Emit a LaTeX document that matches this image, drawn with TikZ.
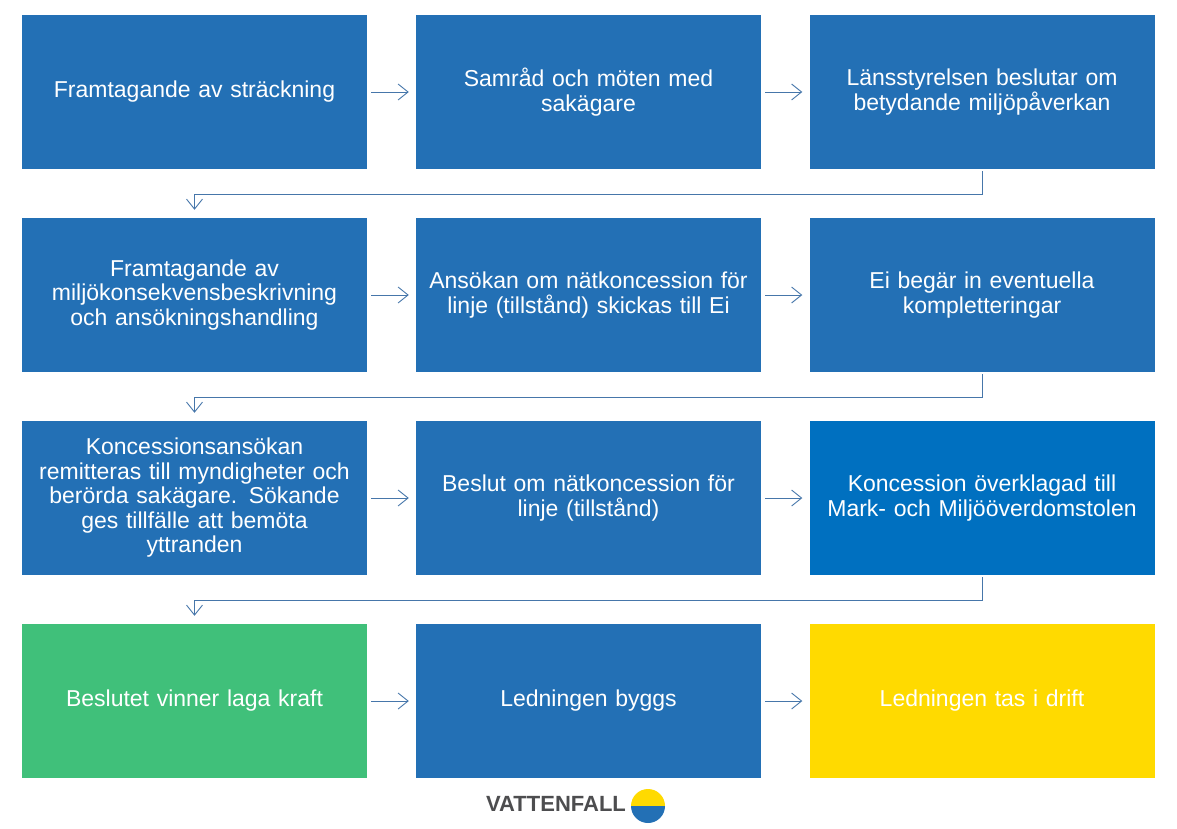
\documentclass[tikz,border=0pt]{standalone}
\usepackage{fontspec}
\setmainfont{Liberation Sans}
\usetikzlibrary{arrows.meta,positioning}
\definecolor{vblue}{RGB}{35,112,181}
\definecolor{vblue2}{RGB}{0,112,192}
\definecolor{vgreen}{RGB}{64,192,122}
\definecolor{vyellow}{RGB}{255,218,0}
\definecolor{vline}{RGB}{70,118,170}
\definecolor{vgray}{RGB}{77,77,79}
\tikzset{
    stepbox/.style={
    rectangle,fill=vblue,text=white,minimum width=345pt,minimum height=154pt,
    text width=335pt,align=center,inner sep=0pt,font=\fontsize{23}{24.5}\selectfont
    },
    flow/.style={
    draw=vline,line width=0.9pt,-{Straight Barb[length=10pt,width=16pt,line width=0.9pt]}
    },
}
\begin{document}
\begin{tikzpicture}[x=1pt,y=-1pt]
   \useasboundingbox (0,0) rectangle (1177,829);

   %row 1
   \node[stepbox] (b1) at (194.5,92) {Framtagande av sträckning};
   \node[stepbox] (b2) at (588.5,92) {Samråd och möten med\\sakägare};
   \node[stepbox] (b3) at (982,92) {Länsstyrelsen beslutar om\\betydande miljöpåverkan};

   %row 2
   \node[stepbox] (b4) at (194.5,295) {Framtagande av\\miljökonsekvensbeskrivning\\och ansökningshandling};
   \node[stepbox] (b5) at (588.5,295) {Ansökan om nätkoncession för\\linje (tillstånd) skickas till Ei};
   \node[stepbox] (b6) at (982,295) {Ei begär in eventuella\\kompletteringar};

   %row 3
   \node[stepbox] (b7) at (194.5,498) {Koncessionsansökan\\remitteras till myndigheter och\\berörda sakägare. Sökande\\ges tillfälle att bemöta\\yttranden};
   \node[stepbox] (b8) at (588.5,498) {Beslut om nätkoncession för\\linje (tillstånd)};
   \node[stepbox,fill=vblue2] (b9) at (982,498) {Koncession överklagad till\\Mark- och Miljööverdomstolen};

   %row 4
   \node[stepbox,fill=vgreen] (b10) at (194.5,701) {Beslutet vinner laga kraft};
   \node[stepbox] (b11) at (588.5,701) {Ledningen byggs};
   \node[stepbox,fill=vyellow] (b12) at (982,701) {Ledningen tas i drift};

   %logo
   \node[text=vgray,font=\bfseries\fontsize{22}{24}\selectfont,inner sep=0pt] (logo) at (556,804) {VATTENFALL};
   \fill[vyellow] (648,806) ++(-17,0) arc[start angle=180,end angle=360,radius=17] -- cycle;
   \fill[vblue] (648,806) ++(17,0) arc[start angle=0,end angle=180,radius=17] -- cycle;

   %same row
   \foreach \a/\b in {b1/b2,b2/b3,b4/b5,b5/b6,b7/b8,b8/b9,b10/b11,b11/b12}
     \draw[flow,shorten <=4pt,shorten >=7pt] (\a.east) -- (\b.west);

   %next row
   \foreach \a/\b in {b3/b4,b6/b7,b9/b10}
     \draw[flow,shorten <=2pt,shorten >=8pt] (\a.south) -- ++(0,25) -| (\b.north);
\end{tikzpicture}
\end{document}
